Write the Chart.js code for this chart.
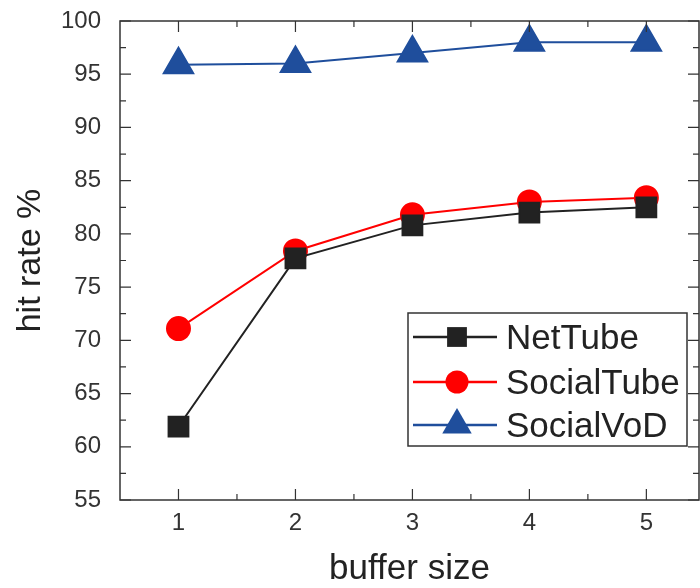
<!DOCTYPE html>
<html>
<head>
<meta charset="utf-8">
<script src="https://cdn.jsdelivr.net/npm/chart.js@4/dist/chart.umd.min.js"></script>
<style>
  html, body { margin: 0; padding: 0; background: #fff; }
  #wrap { width: 700px; height: 588px; }
</style>
</head>
<body>
<div id="wrap"><canvas id="myChart"></canvas></div>
<script>
// data
const bufferSizes = [1, 2, 3, 4, 5];
const netTube    = [61.9, 77.7, 80.8, 82.0, 82.5];
const socialTube = [71.1, 78.4, 81.8, 83.0, 83.4];
const socialVoD  = [95.9, 96.0, 97.0, 98.0, 98.0];
const yTicks = [55, 60, 65, 70, 75, 80, 85, 90, 95, 100];

const FONT = 'Liberation Sans, Arial, sans-serif';
const AXIS = '#333';

function pts(vals) {
  return vals.map((v, i) => ({ x: bufferSizes[i], y: v }));
}

// inward ticks + frame, origin style
const frameTicks = {
  id: 'frameTicks',
  afterDatasetsDraw(chart) {
    const { ctx, chartArea: a, scales } = chart;
    ctx.save();
    ctx.strokeStyle = AXIS;
    ctx.lineWidth = 1.5;
    ctx.strokeRect(a.left, a.top, a.right - a.left, a.bottom - a.top);
    ctx.lineWidth = 1.2;
    const x = scales.x, y = scales.y;
    bufferSizes.forEach(v => {
      [[v, 11], [v + 0.5, 6]].forEach(([t, len]) => {
        const px = x.getPixelForValue(t);
        if (px > a.right - 1) return;
        ctx.beginPath();
        ctx.moveTo(px, a.bottom); ctx.lineTo(px, a.bottom - len);
        ctx.moveTo(px, a.top); ctx.lineTo(px, a.top + len);
        ctx.stroke();
      });
    });
    yTicks.forEach(v => {
      [[v, 11], [v + 2.5, 6]].forEach(([t, len]) => {
        if (t > 100) return;
        const py = y.getPixelForValue(t);
        ctx.beginPath();
        ctx.moveTo(a.left, py); ctx.lineTo(a.left + len, py);
        ctx.moveTo(a.right, py); ctx.lineTo(a.right - len, py);
        ctx.stroke();
      });
    });
    ctx.restore();
  }
};

function drawMarker(ctx, style, r, x, y) {
  if (style === 'rect') {
    const s = r * Math.SQRT1_2;
    ctx.rect(x - s, y - s, 2 * s, 2 * s);
  } else if (style === 'circle') {
    ctx.arc(x, y, r, 0, Math.PI * 2);
  } else {
    ctx.moveTo(x, y - r);
    ctx.lineTo(x + r * Math.sin(Math.PI / 3), y + r / 2);
    ctx.lineTo(x - r * Math.sin(Math.PI / 3), y + r / 2);
    ctx.closePath();
  }
}

// legend box with line + marker per series
const boxLegend = {
  id: 'boxLegend',
  afterDraw(chart) {
    const { ctx } = chart;
    const bx = 408, by = 313, bw = 279, bh = 133;
    const rows = [337, 382, 425];
    ctx.save();
    ctx.fillStyle = '#fff';
    ctx.fillRect(bx, by, bw, bh);
    ctx.strokeStyle = AXIS;
    ctx.lineWidth = 1.5;
    ctx.strokeRect(bx, by, bw, bh);
    chart.data.datasets.forEach((ds, i) => {
      const cy = rows[i];
      ctx.strokeStyle = ds.borderColor;
      ctx.lineWidth = 2.5;
      ctx.beginPath();
      ctx.moveTo(bx + 5, cy); ctx.lineTo(bx + 89, cy);
      ctx.stroke();
      ctx.fillStyle = ds.pointBackgroundColor;
      ctx.beginPath();
      drawMarker(ctx, ds.pointStyle, ds.pointRadius, bx + 49, cy);
      ctx.fill();
      ctx.fillStyle = '#222';
      ctx.font = '35px ' + FONT;
      ctx.textBaseline = 'middle';
      ctx.fillText(ds.label, bx + 98, cy + 2);
    });
    ctx.restore();
  }
};

const ctx = document.getElementById('myChart');

new Chart(ctx, {
  type: 'line',
  data: {
    datasets: [{
      label: 'NetTube',
      data: pts(netTube),
      borderColor: '#222222',
      pointBackgroundColor: '#222222',
      pointStyle: 'rect',
      pointRadius: 14,
      borderWidth: 2
    }, {
      label: 'SocialTube',
      data: pts(socialTube),
      borderColor: '#ff0000',
      pointBackgroundColor: '#ff0000',
      pointStyle: 'circle',
      pointRadius: 11.5,
      borderWidth: 2
    }, {
      label: 'SocialVoD',
      data: pts(socialVoD),
      borderColor: '#1f4e9c',
      pointBackgroundColor: '#1f4e9c',
      pointStyle: 'triangle',
      pointRadius: 17,
      borderWidth: 2
    }]
  },
  options: {
    responsive: true,
    maintainAspectRatio: false,
    animation: false,
    layout: { autoPadding: false, padding: { top: 21, right: 1, left: 0, bottom: 0 } },
    plugins: {
      legend: { display: false },
      tooltip: { enabled: false }
    },
    elements: { point: { borderWidth: 0, hoverRadius: 0 } },
    scales: {
      x: {
        type: 'linear',
        min: 0.5,
        max: 5.45,
        afterBuildTicks: s => { s.ticks = bufferSizes.map(v => ({ value: v })); },
        afterFit: s => { s.height = 88; s.paddingLeft = 0; s.paddingRight = 0; },
        grid: { display: false },
        border: { display: false },
        ticks: { color: AXIS, font: { family: FONT, size: 24 }, padding: 1 },
        title: {
          display: true, text: 'buffer size', color: '#222',
          font: { family: FONT, size: 35, lineHeight: 1.05 }, padding: { top: 0, bottom: 0 }
        }
      },
      y: {
        min: 55,
        max: 100,
        afterBuildTicks: s => { s.ticks = yTicks.map(v => ({ value: v })); },
        afterFit: s => { s.width = 120; s.paddingTop = 0; s.paddingBottom = 0; },
        grid: { display: false },
        border: { display: false },
        ticks: { color: AXIS, font: { family: FONT, size: 24 }, padding: 11 },
        title: {
          display: true, text: 'hit rate %', color: '#222',
          font: { family: FONT, size: 34 }, padding: { top: 10, bottom: 0 }
        }
      }
    }
  },
  plugins: [frameTicks, boxLegend]
});
</script>
</body>
</html>
